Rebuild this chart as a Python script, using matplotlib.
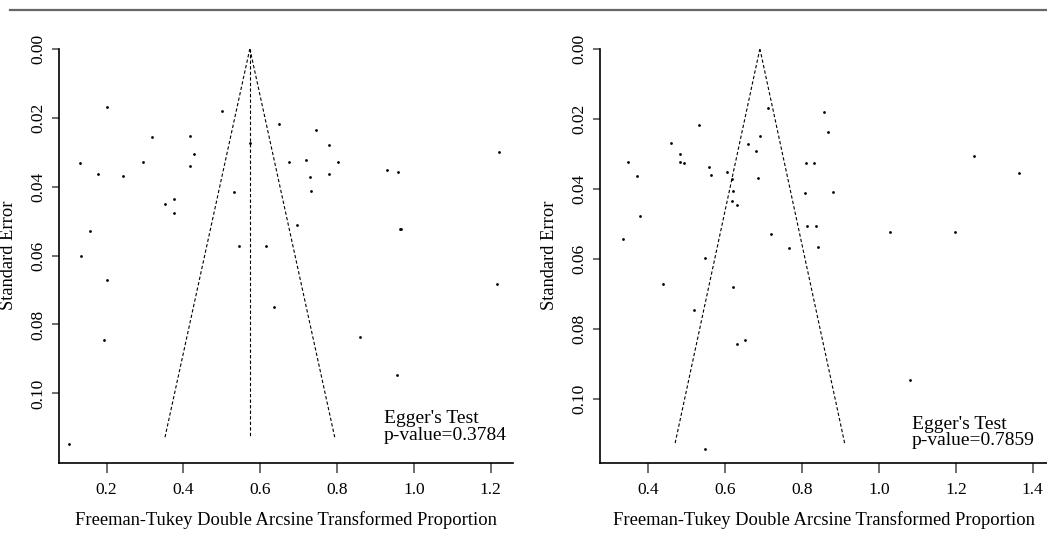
import matplotlib
matplotlib.use("Agg")
import matplotlib.pyplot as plt
import numpy as np

plt.rcParams['font.family'] = ['Liberation Serif', 'DejaVu Serif']

# ---- data: left panel ----
left_x = [0.200, 0.500, 0.573, 0.319, 0.418, 0.428, 0.418, 0.131, 0.177, 0.244,
          0.295, 0.352, 0.376, 0.376, 0.533, 0.157, 0.133, 0.545, 0.649, 0.745,
          0.779, 0.676, 0.720, 0.803, 0.729, 0.778, 0.731, 0.929, 0.959, 1.222,
          0.696, 0.964, 0.967, 0.615, 0.201, 0.193, 0.103, 0.636, 1.216, 0.860,
          0.955]
left_se = [0.0170, 0.0181, 0.0273, 0.0256, 0.0253, 0.0306, 0.0340, 0.0333, 0.0364, 0.0369,
           0.0329, 0.0451, 0.0437, 0.0478, 0.0416, 0.0530, 0.0600, 0.0571, 0.0218, 0.0237,
           0.0279, 0.0329, 0.0322, 0.0330, 0.0372, 0.0363, 0.0414, 0.0353, 0.0357, 0.0299,
           0.0512, 0.0524, 0.0522, 0.0572, 0.0670, 0.0846, 0.1146, 0.0748, 0.0683, 0.0837,
           0.0947]
left_center = 0.573
left_pvalue = "0.3784"

# ---- data: right panel ----
right_x = [0.711, 0.532, 0.690, 0.460, 0.660, 0.681, 0.482, 0.348, 0.482, 0.492,
           0.558, 0.370, 0.563, 0.604, 0.618, 0.686, 0.620, 0.617, 0.630, 0.378,
           0.335, 0.720, 0.765, 0.546, 0.857, 0.867, 0.811, 0.832, 0.808, 0.881,
           0.813, 0.835, 0.842, 1.248, 1.365, 1.029, 1.198, 0.437, 0.620, 0.519,
           0.631, 0.651, 0.546, 1.081]
right_se = [0.0170, 0.0219, 0.0249, 0.0268, 0.0273, 0.0293, 0.0300, 0.0322, 0.0323, 0.0327,
            0.0337, 0.0363, 0.0359, 0.0352, 0.0371, 0.0368, 0.0407, 0.0434, 0.0445, 0.0477,
            0.0544, 0.0529, 0.0568, 0.0596, 0.0181, 0.0239, 0.0327, 0.0325, 0.0412, 0.0410,
            0.0507, 0.0507, 0.0565, 0.0306, 0.0355, 0.0523, 0.0522, 0.0671, 0.0679, 0.0745,
            0.0841, 0.0830, 0.1143, 0.0946]
right_center = 0.690
right_pvalue = "0.7859"

funnel_se_max = 0.1127
y_ticks = [0.00, 0.02, 0.04, 0.06, 0.08, 0.10]
left_xticks = [0.2, 0.4, 0.6, 0.8, 1.0, 1.2]
right_xticks = [0.4, 0.6, 0.8, 1.0, 1.2, 1.4]
xlabel = "Freeman-Tukey Double Arcsine Transformed Proportion"
ylabel = "Standard Error"

W, H = 1047, 536
fig = plt.figure(figsize=(W / 100, H / 100), dpi=100)

# header rule
fig.add_artist(plt.Line2D([10 / W, 1.0], [1 - 10 / H, 1 - 10 / H],
                          color="#666666", lw=1.6))


def panel(rect_px, xs, ses, center, pval, xlim, ylim_bottom, xticks, vline, text_xy):
    x0, y0, x1, y1 = rect_px
    ax = fig.add_axes([x0 / W, 1 - y1 / H, (x1 - x0) / W, (y1 - y0) / H])
    ax.set_xlim(*xlim)
    ax.set_ylim(ylim_bottom, 0.0)
    for s in ("top", "right"):
        ax.spines[s].set_visible(False)
    for s in ("left", "bottom"):
        ax.spines[s].set_linewidth(1.2)
        ax.spines[s].set_color("black")
    ax.scatter(xs, ses, s=4, color="black", linewidths=0, zorder=3)
    se_line = np.array([0.0, funnel_se_max])
    dash = (0, (3, 2))
    ax.plot(center - 1.96 * se_line, se_line, color="black", lw=0.8, linestyle=dash)
    ax.plot(center + 1.96 * se_line, se_line, color="black", lw=0.8, linestyle=dash)
    if vline:
        ax.plot([center, center], [0.0, funnel_se_max], color="black", lw=0.8, linestyle=dash)
    ax.set_xticks(xticks)
    ax.set_xticklabels([f"{t:.1f}" for t in xticks])
    ax.set_yticks(y_ticks)
    ax.set_yticklabels([f"{t:.2f}" for t in y_ticks], rotation=90, va="center")
    ax.tick_params(axis="x", direction="out", length=7, width=1.2,
                   color="#555555", labelsize=12.5, pad=7)
    ax.tick_params(axis="y", direction="out", length=5, width=1.2,
                   color="#555555", labelsize=12.5, pad=4)
    ax.set_xlabel(xlabel, fontsize=13.3, labelpad=9)
    ax.set_ylabel(ylabel, fontsize=13.3)
    ax.yaxis.set_label_coords(-42.0 / (x1 - x0), 0.5)
    ax.text(text_xy[0], text_xy[1], "Egger's Test\np-value=" + pval,
            transform=fig.transFigure, fontsize=14, ha="left", va="center",
            linespacing=0.95)
    return ax


axL = panel((59.3, 48.7, 513, 462.7),
            left_x, left_se, left_center, left_pvalue,
            (0.077, 1.258), 0.1201, left_xticks, True,
            (384 / W, 1 - 427 / H))
axR = panel((600, 48.7, 1047, 462.7),
            right_x, right_se, right_center, right_pvalue,
            (0.274, 1.437), 0.1181, right_xticks, False,
            (911.7 / W, 1 - 432.5 / H))

fig.savefig("out.png", dpi=100)
